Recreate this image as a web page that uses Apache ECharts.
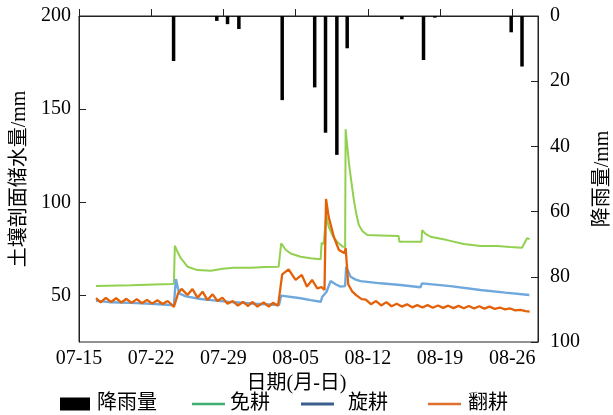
<!DOCTYPE html>
<html>
<head>
<meta charset="utf-8">
<script src="https://cdn.jsdelivr.net/npm/echarts@6/dist/echarts.min.js"></script>
<style>html,body{margin:0;padding:0;background:#fff}#c{width:613px;height:415px}</style>
</head>
<body>
<div id="c"></div>
<script>
// x values are days after 07-15
const xTickLabels = ['07-15','07-22','07-29','08-05','08-12','08-19','08-26'];

const rainDays = [9.17, 13.36, 14.4, 15.5, 19.7, 22.85, 23.9, 25.0, 26.0, 31.3, 33.4, 34.5, 41.9, 42.95];
const rainMm   = [13.8, 1.5, 2.5, 4, 25.8, 21.9, 35.8, 42.6, 9.9, 1, 13.5, 0.5, 5, 15.5];

const noTillDays = [1.65,5.03,8.91,9.2,9.29,9.58,9.87,10.52,11.49,12.78,13.94,15.0,16.65,18.1,19.36,19.5,19.6,20.04,20.52,21.49,22.46,23.43,23.52,23.72,23.96,24.2,24.59,25.07,25.56,25.8,25.85,26.17,26.43,26.65,26.91,27.13,27.49,27.95,29.24,30.98,31.07,33.2,33.27,33.6,34.08,35.69,37.3,38.92,40.53,41.82,42.95,43.44,43.69];
const noTillVals = [55.1,55.5,56.1,56.3,76.7,73,70,65.4,63.6,63.3,64.3,64.9,64.9,65.2,65.4,65.5,78,74.5,72.5,70.8,70,69.4,78.3,77.5,93,87,82,78.5,76.2,76,139.2,121,110,101.2,93,87.8,84.5,82.4,82.2,81.9,78.8,78.8,85.1,83,81.5,79.7,77.6,76.5,76.5,76,75.6,80.7,80.2];

const rotaryDays = [1.65,3.1,5.03,6.97,8.91,9.2,9.39,9.71,10.36,11.81,13.26,15.03,17.13,19.39,19.6,21.49,22.46,23.43,23.59,24.0,24.39,24.87,25.36,25.8,25.9,26.33,26.82,27.3,29.24,31.17,33.1,33.25,36.01,38.92,41.34,43.66];
const rotaryVals = [47.2,46.3,46,45.5,44.9,44.5,58.8,51.1,49.5,48.1,47.2,46.3,45.5,44.9,49.9,48.5,47.5,46.6,49.3,52,57.7,56,54.7,55,65.4,60,58.5,57.7,56.5,55.6,54.4,56.5,55,52.9,51.5,50.2];

const ploughDays = [1.65,2.1,2.6,3.1,3.6,4.1,4.6,5.1,5.6,6.1,6.6,7.1,7.6,8.1,8.6,9.0,9.2,9.35,9.6,9.94,10.52,11.0,11.49,11.98,12.46,12.95,13.43,13.9,14.4,14.9,15.4,15.9,16.4,16.8,17.3,17.9,18.4,18.8,19.3,19.45,19.7,20.32,21.0,21.6,22.1,22.6,23.1,23.5,23.8,23.95,24.2,24.7,25.2,25.75,25.85,26.1,26.5,26.9,27.4,27.8,28.3,28.8,29.3,29.8,30.3,30.8,31.3,31.8,32.3,32.8,33.3,33.8,34.3,34.8,35.3,35.8,36.3,36.8,37.3,37.8,38.3,38.8,39.3,39.8,40.3,40.8,41.3,41.8,42.3,42.8,43.3,43.69];
const ploughVals = [48.5,46.3,48.7,46.5,48.5,46.2,48.2,46,48,45.8,47.6,45.6,47.4,45.4,47,45,43.8,43.5,51,53.5,50.2,53.4,48.8,52,47.5,50.6,47,48.8,45.5,47,44.5,46.5,44.3,46.5,44,46.3,44,46,44.5,44.9,61.3,64,58.3,61,54.7,58.3,53.8,54.5,52.9,101.8,92.3,81.5,74.4,72.6,75.5,56,52,50,48,47.8,45.3,47,44.6,46.4,44.2,45.5,44,45.2,43.6,44.8,43.5,44.8,43.4,44.6,43.3,44.5,43.2,44.4,43.1,44.3,43,44.2,42.9,44,42.8,43.5,42.5,43,42,42.2,41.6,41.3];

const pairs = (d, v) => d.map((x, i) => [x, v[i]]);

const FONT = '"Liberation Serif","Noto Sans CJK SC",serif';
const AX = '#222';

const chart = echarts.init(document.getElementById('c'), null, {renderer: 'canvas'});
chart.setOption({
  animation: false,
  backgroundColor: '#fff',
  textStyle: {fontFamily: FONT, color: '#000'},
  grid: {left: 79, right: 75, top: 16, bottom: 73, containLabel: false, outerBoundsMode: 'none',
    show: true, borderColor: AX, borderWidth: 1},
  xAxis: {
    type: 'value', min: 0, max: 44.5, interval: 7,
    name: '日期(月-日)', nameLocation: 'middle', nameGap: 31,
    nameTextStyle: {fontFamily: FONT, fontSize: 20, color: '#000', padding: [0, 24, 0, 0]},
    axisLine: {show: true, lineStyle: {color: AX, width: 1}},
    axisTick: {show: true, inside: true, length: 7, lineStyle: {color: AX}},
    axisLabel: {fontFamily: FONT, fontSize: 20, color: '#000', margin: 7, showMaxLabel: false,
      formatter: v => xTickLabels[Math.round(v / 7)] || ''},
    splitLine: {show: false}
  },
  yAxis: [{
    type: 'value', min: 25, max: 200, splitNumber: 4, minInterval: 50, maxInterval: 50,
    name: '土壤剖面储水量/mm', nameLocation: 'middle', nameGap: 47, nameRotate: 90,
    nameTextStyle: {fontFamily: FONT, fontSize: 20, color: '#000'},
    axisLine: {show: true, lineStyle: {color: AX, width: 1}},
    axisTick: {show: true, inside: true, length: 7, lineStyle: {color: AX}},
    axisLabel: {fontFamily: FONT, fontSize: 20, color: '#000', margin: 8, showMinLabel: false},
    splitLine: {show: false}
  }, {
    type: 'value', min: 0, max: 100, interval: 20, inverse: true, position: 'right',
    name: '降雨量/mm', nameLocation: 'middle', nameGap: 55, nameRotate: 90,
    nameTextStyle: {fontFamily: FONT, fontSize: 20, color: '#000'},
    axisLine: {show: true, lineStyle: {color: AX, width: 1}},
    axisTick: {show: true, inside: true, length: 7, lineStyle: {color: AX}},
    axisLabel: {fontFamily: FONT, fontSize: 20, color: '#000', margin: 12},
    splitLine: {show: false}
  }],
  legend: [
    {data: ['降雨量'], left: 60, top: 394, padding: 0, itemWidth: 30, itemHeight: 13, icon: 'rect',
      textStyle: {fontFamily: FONT, fontSize: 20, color: '#000', padding: [0,0,0,2]}},
    {data: ['免耕'], left: 192, top: 394, padding: 0, itemWidth: 33, itemHeight: 2.5, icon: 'rect',
      textStyle: {fontFamily: FONT, fontSize: 20, color: '#000'}},
    {data: ['旋耕'], left: 301, top: 394, padding: 0, itemWidth: 33, itemHeight: 3, icon: 'rect',
      textStyle: {fontFamily: FONT, fontSize: 20, color: '#000', padding: [0,0,0,9]}},
    {data: ['翻耕'], left: 428, top: 394, padding: 0, itemWidth: 33, itemHeight: 2.5, icon: 'rect',
      textStyle: {fontFamily: FONT, fontSize: 20, color: '#000', padding: [0,0,0,2]}}
  ],
  series: [
    {name: '降雨量', type: 'bar', yAxisIndex: 1, barWidth: 3.5, itemStyle: {color: '#000'},
      data: pairs(rainDays, rainMm)},
    {name: 'nt', type: 'line', showSymbol: false, symbol: 'none', lineStyle: {color: '#92d050', width: 2}, itemStyle: {color: '#92d050'},
      data: pairs(noTillDays, noTillVals)},
    {name: 'rt', type: 'line', showSymbol: false, symbol: 'none', lineStyle: {color: '#6fa8dc', width: 2.4}, itemStyle: {color: '#6fa8dc'},
      data: pairs(rotaryDays, rotaryVals)},
    {name: 'pt', type: 'line', showSymbol: false, symbol: 'none', lineStyle: {color: '#e36209', width: 2.3}, itemStyle: {color: '#e36209'},
      data: pairs(ploughDays, ploughVals)},
    {name: '免耕', type: 'line', symbol: 'none', lineStyle: {color: '#3fae72', width: 2}, itemStyle: {color: '#3fae72'}, data: []},
    {name: '旋耕', type: 'line', symbol: 'none', lineStyle: {color: '#3a5f8c', width: 2.5}, itemStyle: {color: '#3a5f8c'}, data: []},
    {name: '翻耕', type: 'line', symbol: 'none', lineStyle: {color: '#e0712c', width: 2}, itemStyle: {color: '#e0712c'}, data: []}
  ]
});
</script>
</body>
</html>
